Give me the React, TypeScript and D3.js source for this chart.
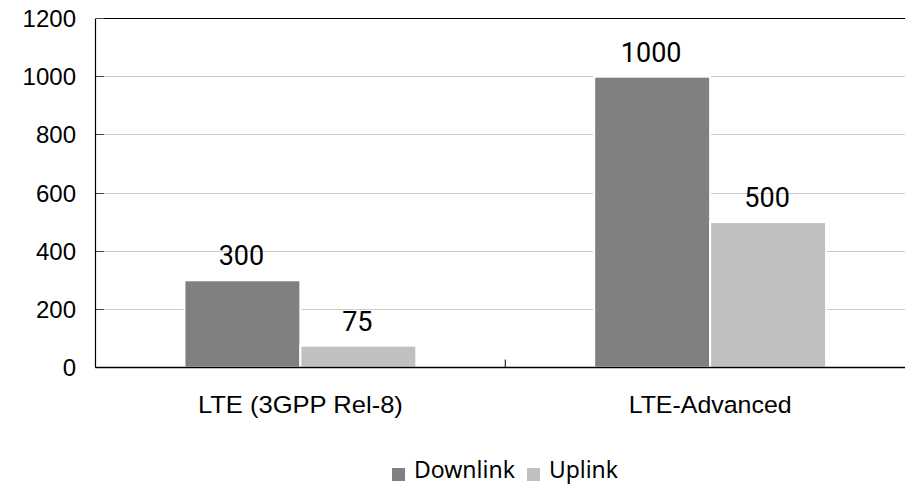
import React from "react";
import * as d3 from "d3";

const categories = ["LTE (3GPP Rel-8)", "LTE-Advanced"];
const seriesNames = ["Downlink", "Uplink"];
const downlink = [300, 1000];
const uplink = [75, 500];
const yTicks = [0, 200, 400, 600, 800, 1000, 1200];
const seriesColors = ["#808080", "#c0c0c0"];
const categoryLabelWidths = [205, 163];
const legendLabelWidths = [101, 69];

const W = 905;
const H = 484;
const M = { left: 95.5, top: 18.5, bottom: 367.5, right: 915 };

export default function App() {
  const x0 = d3.scaleBand<string>().domain(categories).range([M.left, M.right]).paddingInner(0).paddingOuter(0);
  const x1 = d3
    .scaleBand<string>()
    .domain(seriesNames)
    .range([0, x0.bandwidth()])
    .paddingInner(0)
    .paddingOuter(0.767);
  const y = d3.scaleLinear().domain([0, 1200]).range([M.bottom, M.top]);
  const values = [downlink, uplink];

  const boundaries = [...categories.map((c) => x0(c) as number), M.right];

  return (
    <svg
      width={W}
      height={H}
      style={{ position: "absolute", left: 0, top: 0, background: "#fff" }}
      fontFamily="'Liberation Sans', Arial, sans-serif"
    >
      {/* gridlines */}
      {yTicks.map((t) => (
        <line
          key={"g" + t}
          x1={M.left}
          x2={W}
          y1={y(t)}
          y2={y(t)}
          stroke={t === 1200 ? "#000" : "#cccccc"}
          strokeWidth={1}
          shapeRendering="crispEdges"
        />
      ))}
      {/* bars */}
      {categories.map((c, ci) =>
        seriesNames.map((s, si) => {
          const bx = (x0(c) as number) + (x1(s) as number);
          const v = values[si][ci];
          return (
            <rect
              key={c + s}
              x={bx}
              y={y(v)}
              width={x1.bandwidth()}
              height={M.bottom - y(v)}
              fill={seriesColors[si]}
              stroke="#fff"
              strokeWidth={2}
            />
          );
        })
      )}
      {/* data labels */}
      {categories.map((c, ci) =>
        seriesNames.map((s, si) => {
          const bx = (x0(c) as number) + (x1(s) as number) + x1.bandwidth() / 2;
          const v = values[si][ci];
          return (
            <text
              key={"l" + c + s}
              x={bx - 1}
              y={y(v) - 15}
              textAnchor="middle"
              fontFamily="Roboto, sans-serif"
              fontSize={27}
              fill="#000"
            >
              {v}
            </text>
          );
        })
      )}
      {/* y ticks */}
      {yTicks.map((t) => (
        <line
          key={"t" + t}
          x1={M.left}
          x2={M.left + 8.5}
          y1={y(t)}
          y2={y(t)}
          stroke="#444"
          strokeWidth={1}
          shapeRendering="crispEdges"
        />
      ))}
      {/* axes */}
      <line x1={M.left} x2={M.left} y1={M.top} y2={M.bottom} stroke="#000" strokeWidth={1.2} />
      <line x1={M.left} x2={W} y1={M.bottom} y2={M.bottom} stroke="#000" strokeWidth={1.4} />
      {boundaries.map((b, i) => (
        <line key={"b" + i} x1={b} x2={b} y1={M.bottom} y2={M.bottom - 8} stroke="#000" strokeWidth={1} />
      ))}
      {/* y labels */}
      {yTicks.map((t) => (
        <text key={"yl" + t} x={76} y={y(t) + 8.6} textAnchor="end" fontSize={24} fill="#000">
          {t}
        </text>
      ))}
      {/* category labels */}
      {categories.map((c, ci) => (
        <text
          key={"c" + c}
          x={(x0(c) as number) + x0.bandwidth() / 2}
          y={413}
          textAnchor="middle"
          fontSize={24.5}
          textLength={categoryLabelWidths[ci]}
          lengthAdjust="spacingAndGlyphs"
          fill="#000"
        >
          {c}
        </text>
      ))}
      {/* legend */}
      {[392, 527].map((lx, i) => (
        <g key={"lg" + i}>
          <rect x={lx} y={468} width={13} height={13} fill={seriesColors[i]} />
          <text
            x={lx + 22}
            y={478.3}
            fontFamily="'Noto Sans', sans-serif"
            fontSize={24}
            textLength={legendLabelWidths[i]}
            lengthAdjust="spacingAndGlyphs"
            fill="#000"
          >
            {seriesNames[i]}
          </text>
        </g>
      ))}
    </svg>
  );
}
